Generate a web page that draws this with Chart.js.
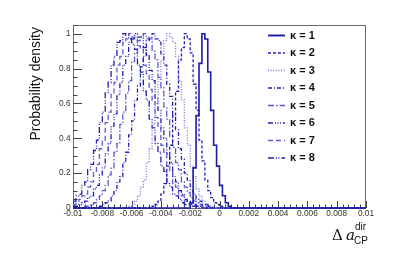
<!DOCTYPE html>
<html lang="en">
<head>
    <meta charset="UTF-8">
    <title>Probability density vs Delta a_CP</title>
    <script src="https://cdn.jsdelivr.net/npm/chart.js"></script>
    <style>
        body {
            margin: 0;
            background: #ffffff;
        }
        #wrap {
            width: 407px;
            height: 254px;
        }
    </style>
</head>
<body>
    <div id="wrap"><canvas id="chart" width="407" height="254"></canvas></div>

    <script>
        // histogram binning (bin width 0.0002 between -0.01 and 0.01)
        const xMin = -0.01;
        const xMax = 0.01;
        const binWidth = 0.0002;

        const kappaLabels = ["\u03ba = 1", "\u03ba = 2", "\u03ba = 3", "\u03ba = 4",
                             "\u03ba = 5", "\u03ba = 6", "\u03ba = 7", "\u03ba = 8"];

        // lower edge of the first non-empty bin of each histogram
        const seriesStart = [-0.0020, -0.0046, -0.0064, -0.0082, -0.0092, -0.0100, -0.0100, -0.0100];

        // bin contents (peak normalised to 1)
        const k1 = [0.03, 0.23, 0.53, 0.83, 1.0, 0.97, 0.78, 0.56, 0.36, 0.24, 0.13, 0.07, 0.03, 0.01];
        const k2 = [0.01, 0.02, 0.04, 0.08, 0.14, 0.24, 0.36, 0.53, 0.67, 0.85, 0.92, 1.0, 0.97, 0.89,
                    0.71, 0.56, 0.39, 0.27, 0.16, 0.10, 0.06, 0.03, 0.02, 0.01];
        const k3 = [0.01, 0.01, 0.02, 0.04, 0.07, 0.12, 0.16, 0.26, 0.34, 0.48, 0.60, 0.75, 0.85, 0.96,
                    1.0, 0.98, 0.95, 0.87, 0.73, 0.62, 0.46, 0.36, 0.24, 0.18, 0.11, 0.07, 0.04, 0.02,
                    0.01, 0.01];
        const k4 = [0.01, 0.02, 0.03, 0.04, 0.07, 0.10, 0.15, 0.18, 0.26, 0.32, 0.42, 0.50, 0.62, 0.70,
                    0.81, 0.87, 0.96, 0.98, 1.0, 0.97, 0.96, 0.88, 0.82, 0.71, 0.64, 0.52, 0.45, 0.34,
                    0.28, 0.20, 0.16, 0.10, 0.08, 0.05, 0.04, 0.02, 0.02, 0.01];
        const k5 = [0.01, 0.01, 0.02, 0.03, 0.05, 0.07, 0.10, 0.13, 0.19, 0.23, 0.32, 0.37, 0.48, 0.55,
                    0.66, 0.73, 0.84, 0.89, 0.96, 0.98, 1.0, 0.97, 0.97, 0.90, 0.85, 0.75, 0.69, 0.58,
                    0.51, 0.41, 0.35, 0.26, 0.22, 0.15, 0.12, 0.09, 0.06, 0.04, 0.03, 0.02, 0.01, 0.01];
        const k6 = [0.01, 0.01, 0.02, 0.03, 0.04, 0.06, 0.07, 0.11, 0.13, 0.19, 0.23, 0.31, 0.37, 0.47,
                    0.54, 0.65, 0.72, 0.82, 0.87, 0.95, 0.97, 1.0, 0.98, 0.98, 0.92, 0.88, 0.79, 0.73,
                    0.63, 0.56, 0.46, 0.40, 0.31, 0.26, 0.18, 0.15, 0.10, 0.08, 0.05, 0.04, 0.03, 0.02,
                    0.01, 0.01];
        const k7 = [0.02, 0.03, 0.05, 0.07, 0.08, 0.12, 0.15, 0.21, 0.25, 0.34, 0.39, 0.49, 0.55, 0.66,
                    0.72, 0.82, 0.87, 0.95, 0.97, 1.0, 0.98, 0.98, 0.93, 0.91, 0.82, 0.77, 0.68, 0.61,
                    0.52, 0.46, 0.36, 0.32, 0.24, 0.21, 0.14, 0.12, 0.08, 0.07, 0.04, 0.03, 0.02, 0.02,
                    0.01, 0.01];
        const k8 = [0.04, 0.07, 0.08, 0.13, 0.15, 0.22, 0.25, 0.33, 0.39, 0.49, 0.55, 0.66, 0.72, 0.82,
                    0.87, 0.95, 0.96, 1.0, 0.99, 0.97, 0.94, 0.91, 0.82, 0.78, 0.67, 0.62, 0.51, 0.46,
                    0.37, 0.32, 0.24, 0.21, 0.14, 0.12, 0.08, 0.07, 0.05, 0.03, 0.02, 0.02, 0.01, 0.01];

        const seriesValues = [k1, k2, k3, k4, k5, k6, k7, k8];

        const xTicks = [-0.01, -0.008, -0.006, -0.004, -0.002, 0, 0.002, 0.004, 0.006, 0.008, 0.01];
        const xTickLabels = ["-0.01", "-0.008", "-0.006", "-0.004", "-0.002", "0",
                             "0.002", "0.004", "0.006", "0.008", "0.01"];
        const yTicks = [0, 0.2, 0.4, 0.6, 0.8, 1];
        const yTickLabels = ["0", "0.2", "0.4", "0.6", "0.8", "1"];

        // line look per kappa (ROOT-like styles)
        const lineColors = ["#1c1ca6", "#1f1fb4", "#7474dc", "#1f1fb4", "#5858cf", "#1f1fb4", "#5c5cd2", "#1f1fb4"];
        const lineDashes = [[], [3, 2], [1, 1.6], [4, 2, 1, 2], [6, 2, 1.5, 2], [5, 2, 1, 1.5, 1, 1.5, 1, 2], [5, 3], [6, 2, 1, 1.5, 1, 2]];
        const lineWidths = [1.6, 1.3, 1.3, 1.3, 1.3, 1.3, 1.3, 1.3];

        // turn bin contents into step points over the whole axis range
        function histPoints(start, values) {
            const nBins = Math.round((xMax - xMin) / binWidth);
            const first = Math.round((start - xMin) / binWidth);
            const pts = [];
            for (let i = 0; i < nBins; i++) {
                const j = i - first;
                const y = (j >= 0 && j < values.length) ? values[j] : 0;
                pts.push({ x: xMin + i * binWidth, y: y });
            }
            pts.push({ x: xMax, y: 0 });
            return pts;
        }

        const datasets = seriesValues.map((vals, i) => ({
            label: kappaLabels[i],
            data: histPoints(seriesStart[i], vals),
            borderColor: lineColors[i],
            borderWidth: lineWidths[i],
            borderDash: lineDashes[i],
            stepped: "before",
            pointRadius: 0,
            fill: false,
            clip: 2
        }));

        const fontName = "'Liberation Sans', Arial, sans-serif";

        const rootAxes = {
            id: "rootAxes",
            beforeDatasetsDraw(chart) {
                const ctx = chart.ctx;
                const a = chart.chartArea;
                const xs = chart.scales.x;
                const ys = chart.scales.y;
                ctx.save();
                // frame
                ctx.strokeStyle = "#6a6a6a";
                ctx.lineWidth = 1;
                ctx.strokeRect(a.left + 0.5, a.top + 0.5, a.right - a.left - 1, a.bottom - a.top);

                ctx.strokeStyle = "#444";
                ctx.beginPath();
                // y ticks: major every 0.2, minor every 0.05
                for (let v = 0; v <= 1.0501; v += 0.05) {
                    const py = Math.round(ys.getPixelForValue(v)) + 0.5;
                    const major = Math.abs(v / 0.2 - Math.round(v / 0.2)) < 1e-6;
                    const len = major ? 9 : 4.5;
                    ctx.moveTo(a.left, py);
                    ctx.lineTo(a.left + len, py);
                }
                // x ticks: major every 0.002, minor every 0.0004
                for (let k = 0; k <= 50; k++) {
                    const v = xMin + k * 0.0004;
                    const px = Math.round(xs.getPixelForValue(v)) + 0.5;
                    const len = (k % 5 === 0) ? 7 : 3.5;
                    ctx.moveTo(px, a.bottom);
                    ctx.lineTo(px, a.bottom - len);
                }
                ctx.stroke();
                ctx.restore();
            },
            afterDraw(chart) {
                const ctx = chart.ctx;
                const a = chart.chartArea;
                const xs = chart.scales.x;
                const ys = chart.scales.y;
                ctx.save();
                ctx.fillStyle = "#333";
                ctx.font = "8.3px " + fontName;

                // x tick labels
                ctx.textAlign = "center";
                ctx.textBaseline = "middle";
                xTicks.forEach((v, i) => {
                    ctx.fillText(xTickLabels[i], xs.getPixelForValue(v), a.bottom + 5.5);
                });

                // y tick labels
                ctx.textAlign = "right";
                yTicks.forEach((v, i) => {
                    ctx.fillText(yTickLabels[i], a.left - 2.5, ys.getPixelForValue(v));
                });

                // y title, right-aligned at the top of the axis
                ctx.fillStyle = "#111";
                ctx.font = "14px " + fontName;
                ctx.save();
                ctx.translate(40, a.top + 2);
                ctx.rotate(-Math.PI / 2);
                ctx.textAlign = "right";
                ctx.textBaseline = "alphabetic";
                ctx.fillText("Probability density", 0, 0);
                ctx.restore();

                // x title  Δ a_CP^dir
                ctx.textAlign = "left";
                ctx.textBaseline = "alphabetic";
                ctx.font = "15px 'DejaVu Serif', serif";
                ctx.fillText("\u0394", 332, 240);
                ctx.font = "italic 15px 'DejaVu Serif', serif";
                ctx.fillText("a", 346, 240);
                ctx.font = "10px " + fontName;
                ctx.fillText("dir", 355, 230);
                ctx.fillText("CP", 354, 244);

                // legend
                const rowY = 35;
                const rowStep = 17.5;
                chart.data.datasets.forEach((ds, i) => {
                    const y = rowY + i * rowStep;
                    ctx.strokeStyle = ds.borderColor;
                    ctx.lineWidth = ds.borderWidth + 0.3;
                    ctx.setLineDash(ds.borderDash);
                    ctx.beginPath();
                    ctx.moveTo(268, y + 0.5);
                    ctx.lineTo(285, y + 0.5);
                    ctx.stroke();
                    ctx.setLineDash([]);
                    ctx.fillStyle = "#111";
                    ctx.font = "bold 11px " + fontName;
                    ctx.textBaseline = "middle";
                    ctx.fillText(ds.label, 290, y + 0.5);
                });
                ctx.restore();
            }
        };

        const ctx = document.getElementById("chart").getContext("2d");
        const chart = new Chart(ctx, {
            type: "line",
            data: { datasets: datasets },
            options: {
                responsive: false,
                animation: false,
                layout: { padding: { left: 73, right: 41, top: 25, bottom: 46 } },
                plugins: {
                    legend: { display: false },
                    tooltip: { enabled: false }
                },
                scales: {
                    x: { type: "linear", min: xMin, max: xMax, display: false },
                    y: { type: "linear", min: 0, max: 1.05, display: false }
                }
            },
            plugins: [rootAxes]
        });
    </script>
</body>
</html>
